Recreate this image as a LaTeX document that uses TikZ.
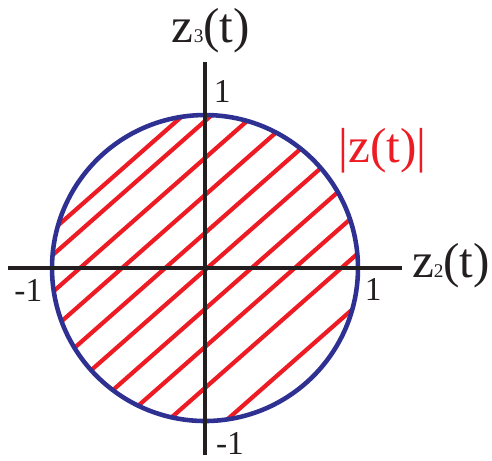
\documentclass[tikz,border=0pt]{standalone}
\usepackage{fontspec}
\setmainfont{Liberation Serif}
\usepackage{xcolor}
\usepackage{tikz}
\definecolor{kreisblau}{RGB}{46,49,146}
\definecolor{schraffrot}{RGB}{237,28,36}
\definecolor{achsschwarz}{RGB}{35,31,32}

\begin{document}
\begin{tikzpicture}[x=3.06cm,y=3.06cm,
    achse/.style={draw=achsschwarz,line width=2.6pt},
    achslabel/.style={font=\fontsize{28}{28}\selectfont,text=achsschwarz,inner sep=0pt,anchor=base west},
    wert/.style={font=\fontsize{19}{19}\selectfont,text=achsschwarz,inner sep=0pt,anchor=base west}]
    \useasboundingbox (-1.340,-1.255) rectangle (1.876,1.752);
    % Schraffur im Kreis
    \begin{scope}
      \clip (0,0) circle (1);
      \foreach \yb in {1.124,0.961,0.719,0.477,0.229,-0.013,-0.268,-0.516,-0.784,-1.118}
        \draw[schraffrot,line width=2.4pt] (-1.3,\yb-1.144) -- (1.3,\yb+1.144);
    \end{scope}
    \draw[kreisblau,line width=2.6pt] (0,0) circle (1);
    % Achsen
    \coordinate (links) at (-1.288,0);
    \coordinate (rechts) at (1.288,0);
    \coordinate (unten) at (0,-1.222);
    \coordinate (oben) at (0,1.346);
    \draw[achse] (links) -- (rechts);
    \draw[achse] (unten) -- (oben);
    \node[achslabel] (zdrei) at (-0.218,1.471) {z{\fontsize{11}{11}\selectfont 3}(t)};
    \node[achslabel] (zzwei) at (1.351,-0.065) {z{\fontsize{11}{11}\selectfont 2}(t)};
    \node[achslabel,text=schraffrot] (betrag) at (0.871,0.693) {|z(t)|};
    \node[wert] (woben) at (0.056,1.085) {1};
    \node[wert] (wlinks) at (-1.248,-0.220) {-1};
    \node[wert] (wrechts) at (1.043,-0.209) {1};
    \node[wert] (wunten) at (0.070,-1.222) {-1};
  \end{tikzpicture}
\end{document}
